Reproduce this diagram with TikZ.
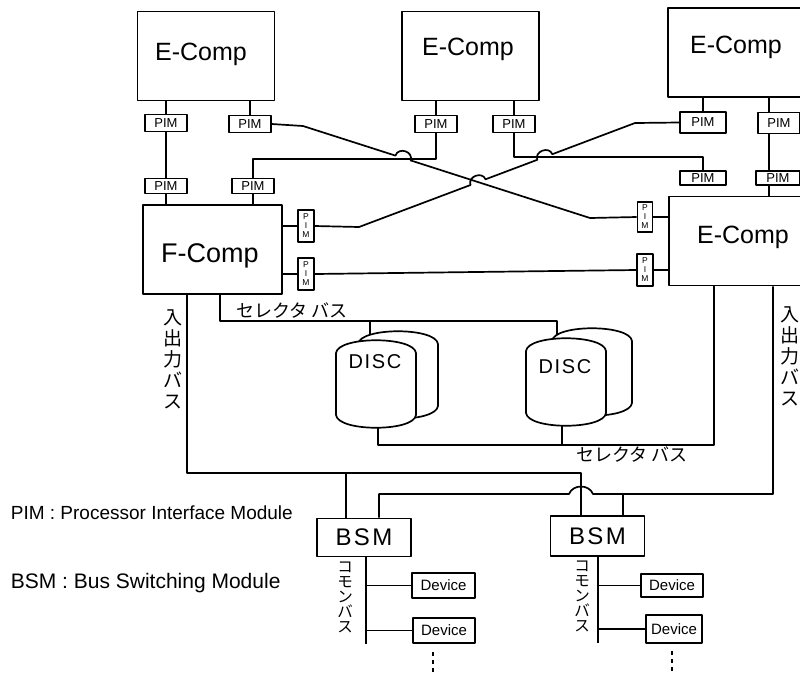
\documentclass[tikz,border=0pt]{standalone}
\usepackage{fontspec}
\setmainfont{Liberation Sans}
\newfontfamily\jp{Noto Sans CJK JP}
\usetikzlibrary{calc}
\newcommand{\drawdisc}[4]{%
  \draw[fill=white,shift={(#1+#3,#2-#4)}] (-40,-31) .. controls (-38,-48) and (38,-48) .. (40,-31) -- (40,31) .. controls (38,48) and (-38,48) .. (-40,31) -- cycle;
  \draw[fill=white,shift={(#1,#2)}] (-40,-31) .. controls (-38,-48) and (38,-48) .. (40,-31) -- (40,31) .. controls (38,48) and (-38,48) .. (-40,31) -- cycle;}
\begin{document}
\begin{tikzpicture}[x=1pt,y=-1pt,line width=1.7pt,line join=round,
  box/.style={draw,line width=1.7pt,inner sep=0pt,fill=white},
  pimh/.style={box,minimum width=42pt,minimum height=17pt,font=\fontsize{13}{13}\selectfont},
  pimv/.style={box,minimum width=16pt,minimum height=32pt,align=center,font=\fontsize{8.5}{9}\selectfont},
  comp/.style={box,minimum width=137pt,minimum height=89pt},
  comptxt/.style={anchor=base,inner sep=0pt,font=\fontsize{25}{25}\selectfont},
  bsmbox/.style={box,minimum width=94pt,minimum height=38pt,font=\fontsize{24}{24}\selectfont\addfontfeatures{LetterSpace=10}},
  devbox/.style={box,minimum width=62pt,minimum height=25pt,font=\fontsize{15}{15}\selectfont},
  disctxt/.style={inner sep=0pt,font=\fontsize{20}{20}\selectfont\addfontfeatures{LetterSpace=8}},
  jptxt/.style={inner sep=0pt,font=\jp\fontsize{18}{18}\selectfont},
  jpv/.style={inner sep=0pt,align=center,font=\jp\fontsize{19}{21}\selectfont},
  jpvs/.style={inner sep=0pt,align=center,font=\jp\fontsize{15.5}{15}\selectfont},
  legend/.style={anchor=west,inner sep=0pt,font=\fontsize{19}{19}\selectfont},
  dotline/.style={line width=1.8pt,dash pattern=on 4pt off 4pt}]
\clip (0,0) rectangle (800,673);
\fill[white] (0,0) rectangle (800,673);
% computers
\node[comp] (ec1) at (206,56) {};
\node[comptxt] (ec1t) at (201,60) {E-Comp};
\node[comp] (ec2) at (470.5,56) {};
\node[comptxt] (ec2t) at (468,55) {E-Comp};
\node[comp,minimum width=138pt] (ec3) at (737,52.5) {};
\node[comptxt] (ec3t) at (736,53) {E-Comp};
\node[comp] (ecr) at (737.5,241) {};
\node[comptxt] (ecrt) at (743,243) {E-Comp};
\node[comp,minimum width=139pt] (fc) at (212.5,249.5) {};
\node[comptxt,font=\fontsize{27}{27}\selectfont] (fct) at (210,262) {F-Comp};
% PIMs
\node[pimh] (p1) at (166,123) {PIM};
\node[pimh] (p2) at (250,124) {PIM};
\node[pimh,minimum height=15pt] (p3) at (166,186) {PIM};
\node[pimh,minimum height=15pt] (p4) at (253,186) {PIM};
\node[pimh] (p5) at (436,124) {PIM};
\node[pimh] (p6) at (514,124) {PIM};
\node[pimh,minimum width=46pt,minimum height=21pt] (p7) at (703,122.5) {PIM};
\node[pimh,minimum height=21pt] (p8) at (779,123) {PIM};
\node[pimh,minimum width=46pt,minimum height=14pt] (p9) at (703,178) {PIM};
\node[pimh,minimum width=44pt,minimum height=14pt] (p10) at (778,178) {PIM};
\node[pimv] (v1) at (306,226) {P\\I\\M};
\node[pimv] (v2) at (306,274) {P\\I\\M};
\node[pimv,minimum width=15pt,minimum height=30pt] (v3) at (645,217) {P\\I\\M};
\node[pimv] (v4) at (645,270) {P\\I\\M};
% BSM and devices
\node[bsmbox] (bsm1) at (364,537.5) {BSM};
\node[bsmbox,minimum height=40pt] (bsm2) at (597.5,536) {BSM};
\node[devbox,minimum width=63pt] (dv1) at (443.5,585.5) {Device};
\node[devbox] (dv2) at (444,630.5) {Device};
\node[devbox,minimum height=23pt] (dv3) at (672,585.5) {Device};
\node[devbox,minimum width=56pt,minimum height=28pt] (dv4) at (674,629) {Device};
% PIM connections
\draw (p1.north) -- (p1.north |- ec1.south);
\draw (p2.north) -- (p2.north |- ec1.south);
\draw (p1) -- (p3);
\draw (p3.south) -- (p3.south |- fc.north);
\draw (p4.south) -- (p4.south |- fc.north);
\draw (v1.west) -- (v1.west -| fc.east);
\draw (v2.west) -- (v2.west -| fc.east);
\draw (p5.north) -- (p5.north |- ec2.south);
\draw (p6.north) -- (p6.north |- ec2.south);
\draw (p7.north) -- (p7.north |- ec3.south);
\coordinate (k8) at (769,0);
\draw (k8 |- ec3.south) -- (k8 |- p8.north);
\draw (k8 |- p8.south) -- (k8 |- p10.north);
\draw (k8 |- p10.south) -- (k8 |- ecr.north);
\draw (v3.east) -- (v3.east -| ecr.west);
\draw (v4.east) -- (v4.east -| ecr.west);
\draw (v2.east) -- (v4.west);
% line A
\coordinate (a1) at (303,126);
\coordinate (a2) at (590,218);
\draw (p2.east) -- (a1) -- (395.4,155.6) .. controls (398.4,146.6) and (413.7,151.4) .. (410.6,160.4) -- (a2) -- (v3.west);
% line B
\coordinate (b1) at (359,227);
\coordinate (b2) at (635,123);
\draw (v1.east) -- (b1) -- (470.5,185.0) .. controls (467.3,176.6) and (482.3,170.9) .. (485.5,179.3) -- (537.3,159.8) .. controls (534.1,151.4) and (549.1,145.7) .. (552.3,154.2) -- (b2) -- (p7.west);
% lines C and D
\coordinate (cC) at (436,159);
\draw (p4.north) |- (cC) -- (p5.south);
\coordinate (cD) at (514,157);
\draw (p6.south) -- (cD) -| (p9.north);
% selector buses
\coordinate (s1) at (220,321);
\coordinate (d1t) at (370,345);
\coordinate (d2t) at (557,345);
\draw (s1 |- fc.south) -- (s1) -| (d2t);
\draw (d1t |- s1) -- (d1t);
\coordinate (s2) at (714,445);
\coordinate (d1b) at (378,420);
\coordinate (d2b) at (562,420);
\draw (d1b) |- (s2) -- (s2 |- ecr.south);
\draw (d2b) -- (d2b |- s2);
% I/O buses
\coordinate (io1) at (187,473);
\coordinate (k2l) at (581,0);
\coordinate (k1l) at (346,0);
\draw (io1 |- fc.south) -- (io1) -| (k2l |- bsm2.north);
\draw (k1l |- io1) -- (k1l |- bsm1.north);
\coordinate (io2) at (773,494);
\coordinate (k1r) at (379,0);
\coordinate (k2r) at (623,0);
\draw (io2 |- ecr.south) -- (io2) -- (593,494) .. controls (589,484) and (573,484) .. (569,494) -| (k1r |- bsm1.north);
\draw (k2r |- io2) -- (k2r |- bsm2.north);
% common buses
\coordinate (cb1) at (366,644);
\draw (cb1 |- bsm1.south) -- (cb1);
\draw (cb1 |- dv1.west) -- (dv1.west);
\draw (cb1 |- dv2.west) -- (dv2.west);
\coordinate (cb2) at (598,643);
\draw (cb2 |- bsm2.south) -- (cb2);
\draw (cb2 |- dv3.west) -- (dv3.west);
\draw (cb2 |- dv4.west) -- (dv4.west);
\coordinate (dt1s) at (433,652);
\coordinate (dt1) at (433,675);
\draw[dotline] (dt1s) -- (dt1);
\coordinate (dt2s) at (672,651);
\coordinate (dt2) at (672,675);
\draw[dotline] (dt2s) -- (dt2);
% discs
\drawdisc{376}{384}{22}{9}
\drawdisc{566}{382}{26}{10}
\node[disctxt] (disc1) at (375,362) {DISC};
\node[disctxt] (disc2) at (565,367) {DISC};
% labels
\node[jptxt] (sel1) at (292,311) {セレクタ バス};
\node[jptxt] (sel2) at (632,455) {セレクタ バス};
\node[jpv] (iol1) at (173,359) {入\\出\\力\\バ\\ス};
\node[jpv] (iol2) at (790,356) {入\\出\\力\\バ\\ス};
\node[jpvs] (cm1) at (345,597) {コ\\モ\\ン\\バ\\ス};
\node[jpvs] (cm2) at (582,596) {コ\\モ\\ン\\バ\\ス};
\node[legend] (lg1) at (10,513) {PIM : Processor Interface Module};
\node[legend,font=\fontsize{21}{21}\selectfont] (lg2) at (10,583) {BSM : Bus Switching Module};
\end{tikzpicture}
\end{document}
